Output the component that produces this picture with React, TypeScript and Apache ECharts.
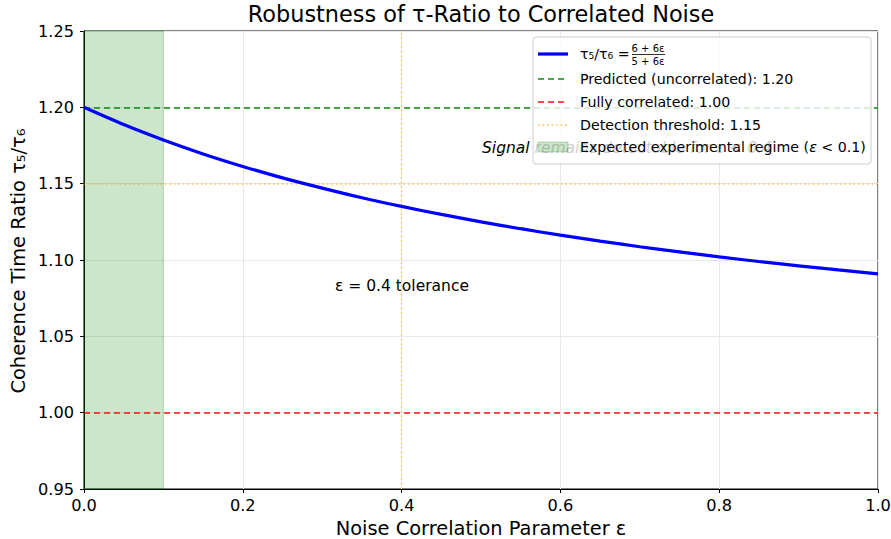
import React, { useEffect, useRef } from "react";
import * as echarts from "echarts";

const epsValues = [0, 0.05, 0.1, 0.15, 0.2, 0.25, 0.3, 0.35, 0.4, 0.45, 0.5, 0.55, 0.6, 0.65, 0.7, 0.75, 0.8, 0.85, 0.9, 0.95, 1.0];
const ratioValues = [1.2, 1.1887, 1.1786, 1.1695, 1.1613, 1.1538, 1.1471, 1.1408, 1.1351, 1.1299, 1.125, 1.1205, 1.1163, 1.1124, 1.1087, 1.1053, 1.102, 1.099, 1.0962, 1.0935, 1.0909];
const predictedLevel = 1.2;
const correlatedLevel = 1.0;
const thresholdLevel = 1.15;
const toleranceEps = 0.4;
const regimeRange = [0, 0.1];
const legendLabels = [
  "Predicted (uncorrelated): 1.20",
  "Fully correlated: 1.00",
  "Detection threshold: 1.15",
];

const FONT = "'DejaVu Sans', sans-serif";
const TICK = 16.2;

export default function App() {
  const ref = useRef<HTMLDivElement>(null);
  useEffect(() => {
    if (!ref.current) return;
    const chart = echarts.init(ref.current, undefined, { renderer: "svg" });
    const lx = 538;
    const tx = 580;
    const rows = [54, 79, 102, 125, 147];
    const option: any = {
      animation: false,
      backgroundColor: "#ffffff",
      textStyle: { fontFamily: FONT },
      grid: {
        left: 84,
        right: 13,
        top: 31,
        bottom: 50,
        outerBoundsMode: "none",
        containLabel: false,
        show: true,
        borderColor: "#000",
        borderWidth: 1,
        backgroundColor: "transparent",
      },
      xAxis: {
        type: "value",
        min: 0,
        max: 1,
        interval: 0.2,
        axisLine: { show: true, onZero: false, lineStyle: { color: "#000", width: 1 } },
        axisTick: { show: true, length: 4, lineStyle: { color: "#000" } },
        axisLabel: {
          color: "#000",
          fontSize: TICK,
          fontFamily: FONT,
          margin: 8,
          formatter: (v: number) => v.toFixed(1),
        },
        splitLine: { show: true, lineStyle: { color: "#e8e8e8", width: 1 } },
      },
      yAxis: {
        type: "value",
        min: 0.95,
        max: 1.25,
        interval: 0.05,
        axisLine: { show: true, onZero: false, lineStyle: { color: "#000", width: 1 } },
        axisTick: { show: true, length: 4, lineStyle: { color: "#000" } },
        axisLabel: {
          color: "#000",
          fontSize: TICK,
          fontFamily: FONT,
          margin: 10,
          formatter: (v: number) => v.toFixed(2),
        },
        splitLine: { show: true, lineStyle: { color: "#e8e8e8", width: 1 } },
      },
      series: [
        {
          type: "line",
          data: [],
          silent: true,
          markArea: {
            silent: true,
            itemStyle: { color: "rgba(0,128,0,0.2)", borderColor: "rgba(0,128,0,0.25)", borderWidth: 1 },
            data: [[{ xAxis: regimeRange[0] }, { xAxis: regimeRange[1] }]],
          },
          markLine: {
            silent: true,
            symbol: "none",
            label: { show: false },
            data: [
              { yAxis: predictedLevel, lineStyle: { color: "rgba(0,128,0,0.7)", type: [6, 4], width: 1.8 } },
              { yAxis: correlatedLevel, lineStyle: { color: "rgba(255,0,0,0.7)", type: [6, 4], width: 1.8 } },
              { yAxis: thresholdLevel, lineStyle: { color: "rgba(255,165,0,0.7)", type: [1.5, 3], width: 1.6 } },
              { xAxis: toleranceEps, lineStyle: { color: "rgba(255,165,0,0.6)", type: [1.5, 3], width: 1.4 } },
            ],
          },
        },
        {
          type: "line",
          data: epsValues.map((e, i) => [e, ratioValues[i]]),
          smooth: 0.3,
          showSymbol: false,
          lineStyle: { color: "#0000ff", width: 3.2 },
          z: 5,
        },
      ],
      graphic: [
        {
          type: "text",
          x: 481,
          y: 14,
          style: { text: "Robustness of τ-Ratio to Correlated Noise", fontSize: 22.4, fontFamily: FONT, fill: "#000", align: "center", verticalAlign: "middle" },
        },
        {
          type: "text",
          x: 481,
          y: 528,
          style: {
            text: "Noise Correlation Parameter ε",
            fontSize: 19.4,
            fontFamily: FONT,
            fill: "#000",
            align: "center",
            verticalAlign: "middle",
          },
        },
        {
          type: "text",
          x: 18,
          y: 261,
          rotation: Math.PI / 2,
          style: {
            text: "Coherence Time Ratio τ₅/τ₆",
            fontSize: 19.4,
            fontFamily: FONT,
            fill: "#000",
            align: "center",
            verticalAlign: "middle",
          },
        },
        {
          type: "text",
          x: 335,
          y: 286,
          style: {
            text: "ε = 0.4 tolerance",
            fontSize: 15.5,
            fontFamily: FONT,
            fill: "#000",
            verticalAlign: "middle",
          },
        },
        {
          type: "text",
          x: 482,
          y: 148,
          z: 50,
          style: {
            text: "Signal remains detectable for ε < 0.4",
            fontSize: 15.5,
            fontStyle: "italic",
            fontFamily: FONT,
            fill: "#000",
            verticalAlign: "middle",
          },
        },
        {
          type: "rect",
          z: 60,
          shape: { x: 533, y: 37, width: 338, height: 127, r: 3 },
          style: { fill: "rgba(255,255,255,0.8)", stroke: "#cccccc", lineWidth: 1 },
        },
        { type: "line", z: 61, shape: { x1: lx, y1: rows[0], x2: lx + 30, y2: rows[0] }, style: { stroke: "#0000ff", lineWidth: 3.2 } },
        { type: "line", z: 61, shape: { x1: lx, y1: rows[1], x2: lx + 30, y2: rows[1] }, style: { stroke: "rgba(0,128,0,0.7)", lineWidth: 1.8, lineDash: [6, 4] } },
        { type: "line", z: 61, shape: { x1: lx, y1: rows[2], x2: lx + 30, y2: rows[2] }, style: { stroke: "rgba(255,0,0,0.7)", lineWidth: 1.8, lineDash: [6, 4] } },
        { type: "line", z: 61, shape: { x1: lx, y1: rows[3], x2: lx + 30, y2: rows[3] }, style: { stroke: "rgba(255,165,0,0.7)", lineWidth: 1.6, lineDash: [1.5, 3] } },
        { type: "rect", z: 61, shape: { x: lx, y: rows[4] - 5, width: 30, height: 10 }, style: { fill: "rgba(0,128,0,0.2)", stroke: "rgba(0,128,0,0.25)", lineWidth: 1 } },
        {
          type: "text",
          z: 62,
          x: tx,
          y: rows[0],
          style: { text: "τ₅/τ₆ =", fontSize: 14.2, fontFamily: FONT, fill: "#000", verticalAlign: "middle" },
        },
        {
          type: "text",
          z: 62,
          x: 648,
          y: 48,
          style: { text: "6 + 6ε", fontSize: 10, fontFamily: FONT, fill: "#000", align: "center", verticalAlign: "middle" },
        },
        { type: "line", z: 62, shape: { x1: 632, y1: 54.5, x2: 665, y2: 54.5 }, style: { stroke: "#000", lineWidth: 0.8 } },
        {
          type: "text",
          z: 62,
          x: 648,
          y: 61,
          style: { text: "5 + 6ε", fontSize: 10, fontFamily: FONT, fill: "#000", align: "center", verticalAlign: "middle" },
        },
        ...legendLabels.map((t, i) => ({
          type: "text",
          z: 62,
          x: tx,
          y: rows[i + 1],
          style: { text: t, fontSize: 14.2, fontFamily: FONT, fill: "#000", verticalAlign: "middle" },
        })),
        {
          type: "text",
          z: 62,
          x: tx,
          y: rows[4],
          style: {
            text: "Expected experimental regime ({i|ε} < 0.1)",
            fontSize: 14.2,
            fontFamily: FONT,
            fill: "#000",
            verticalAlign: "middle",
            rich: { i: { fontSize: 14.2, fontStyle: "italic", fontFamily: FONT, fill: "#000" } },
          },
        },
      ],
    };
    chart.setOption(option);
    return () => chart.dispose();
  }, []);
  return (
    <div
      ref={ref}
      style={{ position: "fixed", left: 0, top: 0, width: 891, height: 539 }}
    />
  );
}
